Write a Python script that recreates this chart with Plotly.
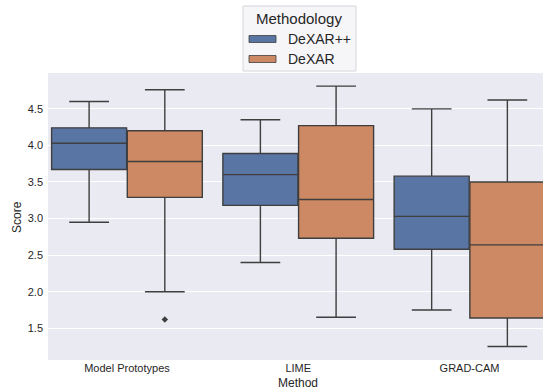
import plotly.graph_objects as go

categories = ["Model Prototypes", "LIME", "GRAD-CAM"]
hues = ["DeXAR++", "DeXAR"]

# precomputed box statistics
dexarpp_low = [2.95, 2.40, 1.75]
dexarpp_q1 = [3.67, 3.18, 2.58]
dexarpp_med = [4.03, 3.60, 3.03]
dexarpp_q3 = [4.24, 3.89, 3.58]
dexarpp_high = [4.60, 4.35, 4.50]

dexar_low = [2.00, 1.65, 1.25]
dexar_q1 = [3.29, 2.73, 1.64]
dexar_med = [3.78, 3.26, 2.64]
dexar_q3 = [4.20, 4.27, 3.50]
dexar_high = [4.76, 4.81, 4.62]

dexar_outlier_cat = [0]
dexar_outlier_val = [1.62]

yticks = [1.5, 2.0, 2.5, 3.0, 3.5, 4.0, 4.5]

BLUE = "#5975a4"
ORANGE = "#cc8963"
LINE = "#3f3f3f"
OFF = 0.221
WID = 0.438
FONT = "Arial, Liberation Sans, sans-serif"
TXT = "#262626"

fig = go.Figure()
stats = [
    (hues[0], BLUE, -OFF, dexarpp_low, dexarpp_q1, dexarpp_med, dexarpp_q3, dexarpp_high),
    (hues[1], ORANGE, OFF, dexar_low, dexar_q1, dexar_med, dexar_q3, dexar_high),
]
for name, col, off, lo, q1, med, q3, hi in stats:
    fig.add_trace(go.Box(
        name=name,
        x=[i + off for i in range(len(categories))],
        lowerfence=lo, q1=q1, median=med, q3=q3, upperfence=hi,
        width=WID, whiskerwidth=0.53,
        fillcolor=col, line=dict(color=LINE, width=1.4),
        boxpoints=False, showlegend=False, hoverinfo="skip",
    ))

fig.add_trace(go.Scatter(
    x=[c + OFF for c in dexar_outlier_cat], y=dexar_outlier_val,
    mode="markers", marker=dict(symbol="diamond", size=5, color=LINE),
    showlegend=False, hoverinfo="skip",
))

fig.update_layout(
    width=543, height=391,
    margin=dict(l=48, r=0, t=73, b=31),
    paper_bgcolor="white", plot_bgcolor="#eaeaf2",
    font=dict(family=FONT, color=TXT, size=11),
    xaxis=dict(
        range=[-0.461, 2.429], tickvals=list(range(len(categories))), ticktext=categories,
        showgrid=False, zeroline=False, showline=False, ticks="", automargin=False,
        tickfont=dict(size=11, color=TXT), ticklabelstandoff=0,
    ),
    yaxis=dict(
        range=[1.066, 4.99], tickvals=yticks, tickformat=".1f",
        showgrid=True, gridcolor="white", gridwidth=1, zeroline=False, showline=False, ticks="",
        tickfont=dict(size=11, color=TXT), automargin=False, ticklabelstandoff=4,
    ),
)

# pixel helpers for placing the legend and axis titles around the plot area
H = 287.0
def py(pix):
    return (360 - pix) / H
def px(pix):
    return (pix - 48) / 495.0

fig.add_annotation(xref="paper", yref="paper", x=px(298), y=py(383), text="Method",
                   showarrow=False, font=dict(size=12, color=TXT), xanchor="center", yanchor="middle")
fig.add_annotation(xref="paper", yref="paper", x=px(17), y=py(217), text="Score", textangle=-90,
                   showarrow=False, font=dict(size=12, color=TXT), xanchor="center", yanchor="middle")

fig.add_shape(type="rect", xref="paper", yref="paper", x0=px(243), x1=px(356), y0=py(71), y1=py(6),
              line=dict(color="#d6d6dc", width=1), fillcolor="#f6f6f9", layer="above")
fig.add_annotation(xref="paper", yref="paper", x=px(299), y=py(18), text="Methodology",
                   showarrow=False, font=dict(size=15, color=TXT), xanchor="center", yanchor="middle")
for (name, col), ypix in zip([(hues[0], BLUE), (hues[1], ORANGE)], [39, 59]):
    fig.add_shape(type="rect", xref="paper", yref="paper", x0=px(249), x1=px(276),
                  y0=py(ypix + 3.5), y1=py(ypix - 3.5), line=dict(color=LINE, width=0.8), fillcolor=col, layer="above")
    fig.add_annotation(xref="paper", yref="paper", x=px(286), y=py(ypix), text=name,
                       showarrow=False, font=dict(size=14, color=TXT), xanchor="left", yanchor="middle")

fig.write_html("out.html", config={"displayModeBar": False},
               post_script="document.body.style.margin='0';document.body.style.overflow='hidden';")
